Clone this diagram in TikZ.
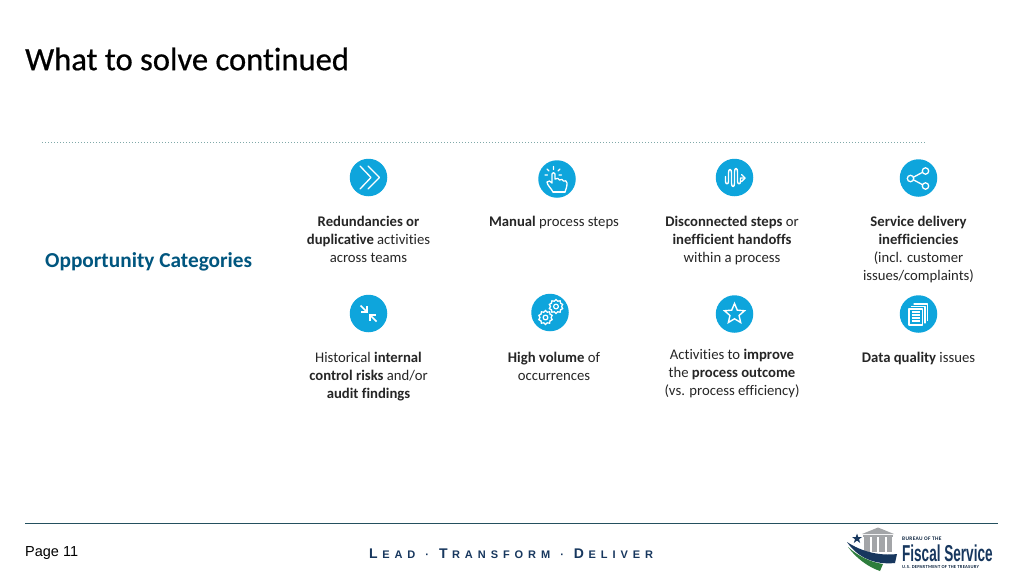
\documentclass[tikz,border=0pt]{standalone}
\usepackage{fontspec}
\setmainfont[Ligatures=NoCommon]{Carlito}
\newfontfamily\arialf{Liberation Sans}
\usetikzlibrary{shapes.geometric}
\definecolor{iconblue}{HTML}{0EA5DC}
\definecolor{headblue}{HTML}{00567F}
\definecolor{rulecol}{HTML}{24505F}
\definecolor{logonavy}{HTML}{17375E}
\definecolor{logogreen}{HTML}{2E7D3C}
\definecolor{logogrey}{HTML}{A3A5A8}
\newcommand{\tagcap}[1]{{\fontsize{14}{14}\selectfont #1}\kern4.5pt}
\newcommand{\tagdot}{\kern2pt{} · \kern2pt{}}
\tikzset{
  iconbg/.style={circle,fill=iconblue,minimum size=37.5pt,inner sep=0pt},
  glyph/.style={draw=white,line width=1.3pt,line cap=round,line join=round,fill=none},
  bodytext/.style={align=center,font=\fontsize{14.7}{18}\selectfont,text=black!85,inner sep=0pt},
}
\begin{document}
\begin{tikzpicture}[x=1pt,y=-1pt]
\useasboundingbox (0,0) rectangle (1024,576);
\fill[white] (0,0) rectangle (1024,576);

\node[anchor=west,inner sep=0pt,font=\fontsize{32.6}{36}\selectfont\addfontfeature{FakeBold=0.6}] (title) at (25,59) {What to solve continued};
\draw[draw=black!35!teal!50,line width=.7pt,dash pattern=on .8pt off 2.2pt] (42,142) -- (925,142);

\node[anchor=west,inner sep=0pt,font=\fontsize{21.3}{24}\selectfont\bfseries,text=headblue] (heading) at (45,262) {Opportunity Categories};

% icons
\node[iconbg] (i1) at (368.5,177.5) {};
\node[iconbg] (i2) at (557,179) {};
\node[iconbg] (i3) at (734.5,177.5) {};
\node[iconbg] (i4) at (918.5,178) {};
\node[iconbg] (i5) at (368.5,313.5) {};
\node[iconbg] (i6) at (550,312.5) {};
\node[iconbg] (i7) at (734.5,314) {};
\node[iconbg] (i8) at (918.5,314) {};

% chevrons
\draw[glyph] (360,166) -- (371,177.5) -- (360,189);
\draw[glyph] (368,166) -- (379.5,177.5) -- (368,189);

% hand
\begin{scope}[shift={(557,179)}]
\draw[glyph,line width=1.3pt] (-4,13) .. controls (-6,9) and (-10,6) .. (-10,3) .. controls (-9,1) and (-6,2) .. (-5,4)
  -- (-5,-5) .. controls (-5,-7) and (-2,-7) .. (-2,-5) -- (-2,0) .. controls (0,-1) and (2,-1) .. (2.5,1)
  .. controls (4,0) and (6,0) .. (6.5,2) .. controls (8,1) and (10,2) .. (10,4) .. controls (10,8) and (9,10) .. (8,13);
\draw[glyph,line width=1.3pt] (-4,13) -- (8,13);
\draw[glyph,line width=1.2pt] (-3.5,-9.5)--(-3.5,-12.5) (-8,-8)--(-10,-10) (1,-8)--(3,-10) (-9.5,-4)--(-12,-4) (2,-4)--(4.5,-4);
\end{scope}

% wave
\begin{scope}[shift={(734.5,177.5)}]
\draw[glyph,line width=1.4pt] (-9,-1) -- (-9,4) .. controls (-9,7) and (-6,7) .. (-6,4) -- (-6,-5)
  .. controls (-6,-9) and (-3,-9) .. (-3,-5) -- (-3,6) .. controls (-3,10) and (0,10) .. (0,6) -- (0,-6)
  .. controls (0,-10) and (3,-10) .. (3,-6) -- (3,4) .. controls (3,7) and (6,7) .. (6,4) -- (6,0.5) -- (10,0.5);
\draw[glyph,line width=1.4pt] (7,-3) -- (10.5,0.5) -- (7,4);
\end{scope}

% share
\begin{scope}[shift={(918.5,178)}]
\draw[glyph] (-7.5,0.5) -- (5.5,-6.5) (-7.5,0.5) -- (5.5,7.5);
\filldraw[glyph,fill=iconblue] (-8,0.5) circle (3.2pt);
\filldraw[glyph,fill=iconblue] (7,-7) circle (3.2pt);
\filldraw[glyph,fill=iconblue] (7,8) circle (3.2pt);
\end{scope}

% arrows in
\begin{scope}[shift={(368.5,313.5)}]
\draw[glyph,line width=1.7pt,line cap=butt] (-8,-8) -- (-2,-2);
\draw[glyph,line width=1.7pt,line cap=butt,miter limit=10,line join=miter] (-1.5,-7.5) -- (-1.5,-1.5) -- (-7.5,-1.5);
\draw[glyph,line width=1.7pt,line cap=butt] (8,8) -- (2,2);
\draw[glyph,line width=1.7pt,line cap=butt,line join=miter] (1.5,7.5) -- (1.5,1.5) -- (7.5,1.5);
\end{scope}

% gears
\begin{scope}[shift={(550,312.5)}]
\foreach \c in {(6,-6),(-4.5,5)}{
  \node[draw=white,line width=1.3pt,star,star points=10,star point ratio=1.25,minimum size=14pt,inner sep=0pt] at \c {};
  \draw[glyph,line width=1.2pt] \c circle (2.4pt);
}
\end{scope}

% star
\node[star,star points=5,star point ratio=2.2,draw=white,line width=1.4pt,minimum size=21pt,inner sep=0pt] (s7) at (734.5,314) {};

% documents
\begin{scope}[shift={(918.5,314)}]
\draw[glyph,line width=1.1pt] (-4.5,-10) -- (9,-10) -- (9,6.5);
\draw[glyph,line width=1.1pt] (-7,-7.5) -- (6.5,-7.5) -- (6.5,9);
\filldraw[glyph,line width=1.1pt,fill=iconblue] (-9.5,-5) rectangle (4,11);
\foreach \yy in {-2,1,4,7}{\draw[glyph,line width=1.4pt,line cap=butt] (-7,\yy) -- (1.5,\yy);}
\end{scope}

% texts
\node[bodytext] (t1) at (368.5,239.5) {\textbf{Redundancies or}\\\textbf{duplicative} activities\\across teams};
\node[bodytext] (t2) at (554,222.5) {\textbf{Manual} process steps};
\node[bodytext] (t3) at (732,241) {\textbf{Disconnected steps} or\\\textbf{inefficient handoffs}\\within a process};
\node[bodytext] (t4) at (918.5,250) {\textbf{Service delivery}\\\textbf{inefficiencies}\\(incl. customer\\issues/complaints)};
\node[bodytext] (t5) at (368.5,376.5) {Historical \textbf{internal}\\\textbf{control risks} and/or\\\textbf{audit findings}};
\node[bodytext] (t6) at (554,366) {\textbf{High volume} of\\occurrences};
\node[bodytext] (t7) at (732,373.5) {Activities to \textbf{improve}\\the \textbf{process outcome}\\(vs. process efficiency)};
\node[bodytext] (t8) at (918.5,358.5) {\textbf{Data quality} issues};

% footer
\draw[rulecol,line width=1pt] (25,523) -- (998,523);
\node[anchor=west,inner sep=0pt,font=\arialf\fontsize{14.5}{16}\selectfont] (page) at (25,553) {Page 11};
\node[anchor=west,inner sep=0pt,text=logonavy,font=\arialf\bfseries\addfontfeature{LetterSpace=45}\fontsize{11}{14}\selectfont] (tag) at (369,553.5)
 {\tagcap{L}EAD\tagdot\tagcap{T}RANSFORM\tagdot\tagcap{D}ELIVER};

% logo
\fill[logogrey] (862,534) -- (878,527.5) -- (894,534) -- cycle;
\fill[logogrey] (863,535) rectangle (893,537);
\foreach \xx in {864,871.5,879,886.5}{\fill[logogrey] (\xx,537) rectangle ++(5.5,15);}
\fill[logonavy] (857,533.5) -- (858.2,537) -- (862,537) -- (859,539.2) -- (860.2,543) -- (857,540.6) -- (853.8,543) -- (855,539.2) -- (852,537) -- (855.8,537) -- cycle;
\fill[logonavy] (847,542) .. controls (862,552) and (880,556) .. (897,554) -- (895,563) .. controls (875,565) and (858,558) .. (847,542) -- cycle;
\fill[logogreen] (848,547) .. controls (858,556) and (870,562) .. (883,564) -- (880,571) .. controls (868,567) and (856,558) .. (848,547) -- cycle;
\node[anchor=west,inner sep=0pt,text=logonavy!70!black] (lg1) at (902,538.5) {\fontsize{5.4}{6}\selectfont\bfseries\addfontfeature{LetterSpace=6}BUREAU OF THE};
\node[anchor=west,inner sep=0pt,text=logonavy,xscale=.59] (lg2) at (902,553.5) {\arialf\bfseries\fontsize{23}{24}\selectfont Fiscal Service};
\node[anchor=west,inner sep=0pt,text=logonavy!70!black] (lg3) at (902,567) {\fontsize{4.6}{6}\selectfont\bfseries\addfontfeature{LetterSpace=5}U.S. DEPARTMENT OF THE TREASURY};
\end{tikzpicture}
\end{document}
